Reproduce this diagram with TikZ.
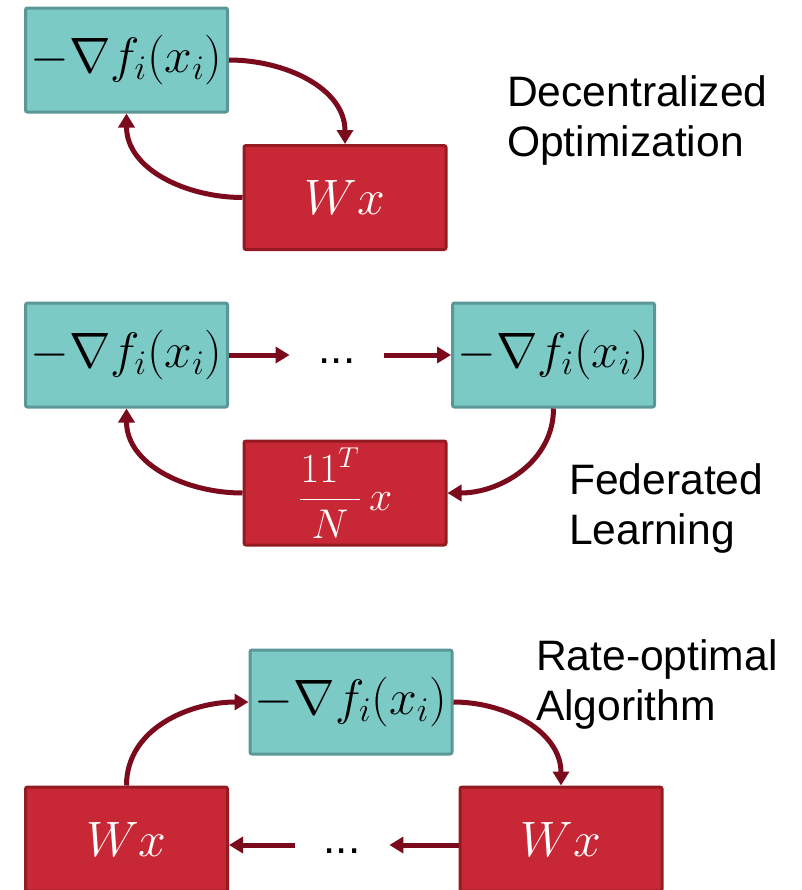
\documentclass[tikz,border=0pt]{standalone}
\usepackage[no-math]{fontspec}
\setmainfont{Liberation Sans}
\usepackage{xcolor}
\usetikzlibrary{arrows.meta}

\definecolor{gradfill}{HTML}{7CCAC6}
\definecolor{graddraw}{HTML}{5A9796}
\definecolor{mixfill}{HTML}{C82835}
\definecolor{mixdraw}{HTML}{951B22}
\definecolor{flow}{HTML}{7B0A1C}

\tikzset{
  gradbox/.style={draw=graddraw,fill=gradfill,line width=1.5pt,rounded corners=1pt,
    minimum width=101pt,minimum height=52pt,inner sep=0pt,font=\fontsize{26}{30}\selectfont},
  mixbox/.style={draw=mixdraw,fill=mixfill,line width=1.5pt,rounded corners=1pt,
    minimum width=101pt,minimum height=52pt,inner sep=0pt,text=white,font=\fontsize{27}{30}\selectfont},
  dotsnode/.style={minimum width=47pt,inner sep=0pt,text height=1.6ex,font=\fontsize{22}{25}\selectfont},
  caption/.style={anchor=west,align=left,font=\fontsize{21.3}{25}\selectfont},
  flowline/.style={draw=flow,line width=2.5pt,-{Triangle[length=7pt,width=8pt]}}
}

\begin{document}
\begin{tikzpicture}[x=0.5pt,y=-0.5pt]
\useasboundingbox (0,0) rectangle (802,890);
% decentralized optimization
\node[gradbox] (grad1) at (126.5,60) {$-\nabla f_i(x_i)$};
\node[mixbox] (mix1) at (345,197.5) {$Wx$};
\node[caption] (lab1) at (500,120) {Decentralized\\Optimization};
\draw[flowline] (grad1.east) to[out=0,in=90] (mix1.north);
\draw[flowline] (mix1.west) to[out=180,in=-90] (grad1.south);

% federated learning
\node[gradbox] (gradA) at (126.5,355) {$-\nabla f_i(x_i)$};
\node[gradbox] (gradB) at (553.5,355) {$-\nabla f_i(x_i)$};
\node[dotsnode] (dotsB) at (337,355) {...};
\node[mixbox,font=\fontsize{20}{24}\selectfont] (avg) at (345,493) {$\displaystyle\frac{11^T}{N}\,x$};
\node[caption] (lab2) at (562,508) {Federated\\Learning};
\draw[flowline] (gradA.east) -- (dotsB.west);
\draw[flowline] (dotsB.east) -- (gradB.west);
\draw[flowline] (gradB.south) to[out=-90,in=0] (avg.east);
\draw[flowline] (avg.west) to[out=180,in=-90] (gradA.south);

% rate-optimal algorithm
\node[gradbox] (gradC) at (351,702) {$-\nabla f_i(x_i)$};
\node[mixbox] (mixL) at (126.5,839) {$Wx$};
\node[mixbox] (mixR) at (561,839) {$Wx$};
\node[dotsnode] (dotsC) at (342,845) {...};
\node[caption] (lab3) at (529,684) {Rate-optimal\\Algorithm};
\draw[flowline] (mixR.west |- dotsC) -- (dotsC.east);
\draw[flowline] (dotsC.west) -- (mixL.east |- dotsC);
\draw[flowline] (mixL.north) to[out=90,in=180] (gradC.west);
\draw[flowline] (gradC.east) to[out=0,in=90] (mixR.north);
\end{tikzpicture}
\end{document}
